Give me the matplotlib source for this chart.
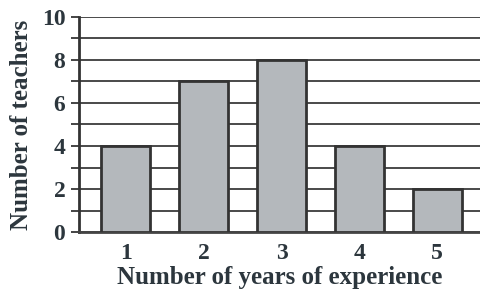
import numpy as np
import matplotlib
matplotlib.use("Agg")
import matplotlib.pyplot as plt

years = [1, 2, 3, 4, 5]
teachers = [4, 7, 8, 4, 2]
y_ticks = [0, 2, 4, 6, 8, 10]

plt.rcParams['font.family'] = ['Liberation Serif', 'DejaVu Serif']
txt = '#2c363d'

fig = plt.figure(figsize=(4.8, 2.96), dpi=100)
ax = fig.add_axes([0.165, 0.216, 0.835, 0.727])

# horizontal grid at every unit
ax.set_yticks(np.arange(0, 11, 1), minor=True)
ax.grid(axis='y', which='both', color='#4a4a4a', linewidth=1.4, zorder=0)

ax.bar(years, teachers, width=0.63, color='#b4b8bc', edgecolor='#333333',
       linewidth=2, zorder=3)

ax.set_xlim(0.4, 5.55)
ax.set_ylim(0, 10)
ax.set_yticks(y_ticks)
ax.set_xticks(years)

for s in ['top', 'right']:
    ax.spines[s].set_visible(False)
ax.spines['left'].set_linewidth(2)
ax.spines['left'].set_color('#333333')
ax.spines['bottom'].set_linewidth(2)
ax.spines['bottom'].set_color('#444444')

ax.tick_params(axis='y', which='both', length=6, width=1.4, color='#444444',
               labelsize=17, labelcolor=txt, pad=4)
ax.tick_params(axis='x', length=0, labelsize=17, labelcolor=txt, pad=8)
for lab in ax.get_xticklabels() + ax.get_yticklabels():
    lab.set_fontweight('bold')

ax.set_xlabel('Number of years of experience', fontsize=18, color=txt,
              fontweight='bold', labelpad=1)
ax.set_ylabel('Number of teachers', fontsize=18, color=txt,
              fontweight='bold', labelpad=6)

fig.savefig('out.png', dpi=100)
